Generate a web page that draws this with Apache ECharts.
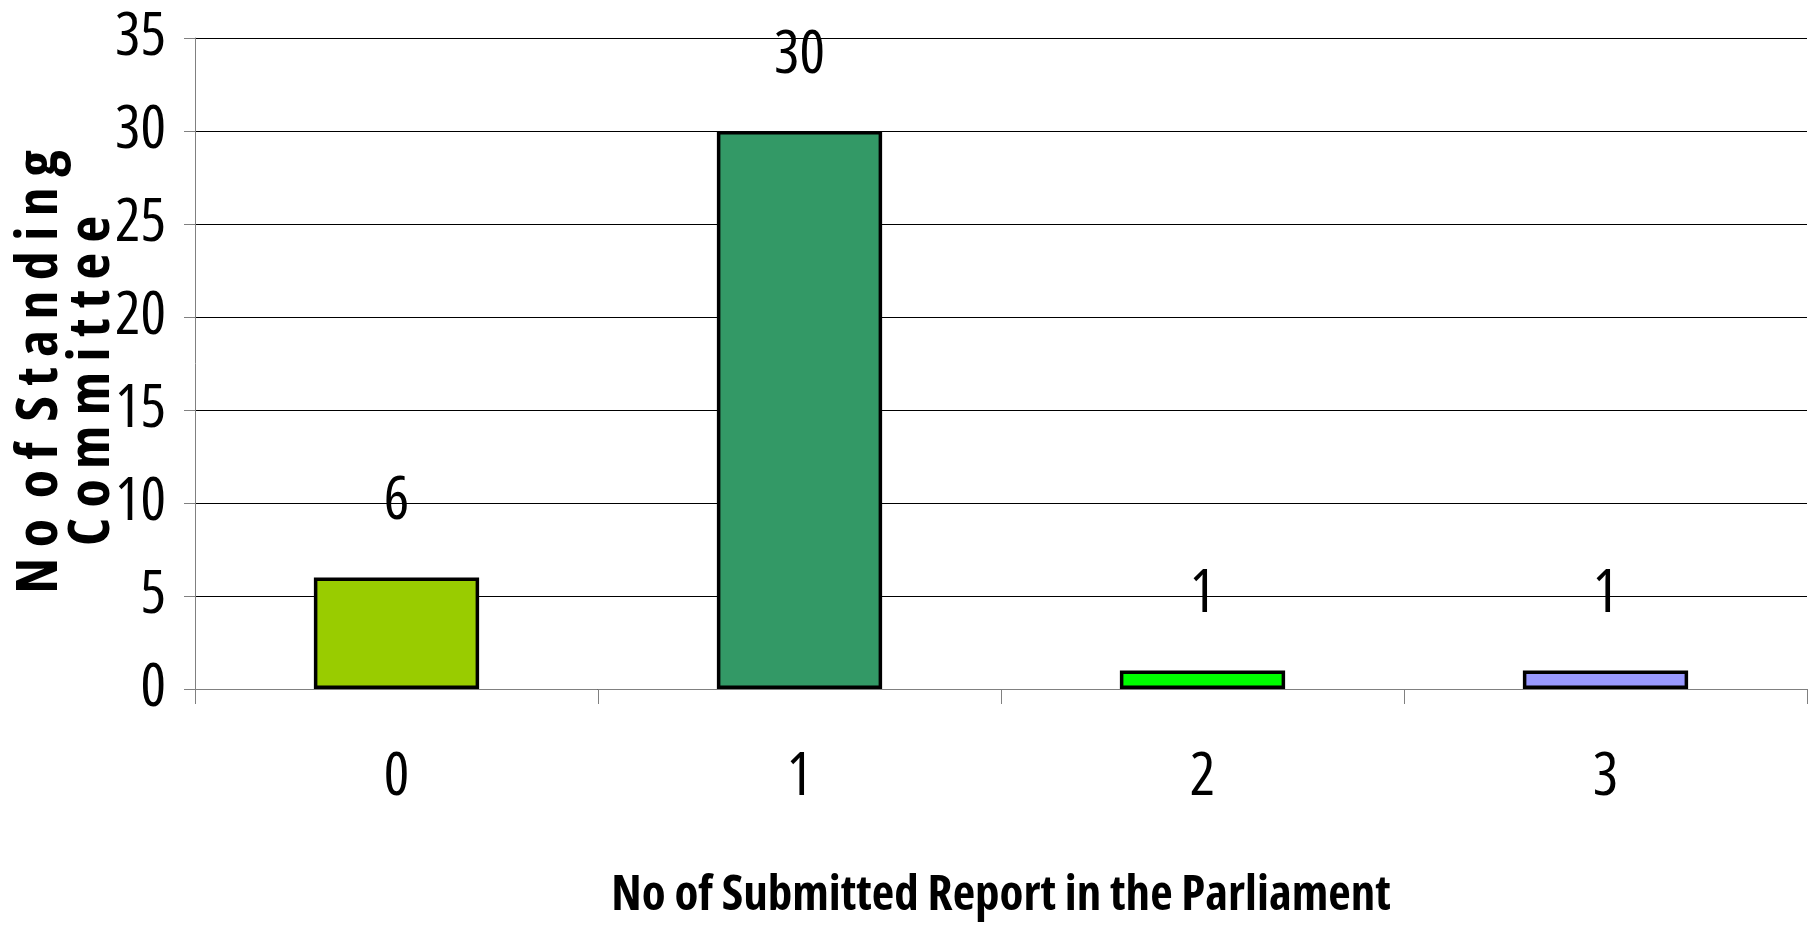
<html>
<head>
    <meta charset="utf-8">
</head>
<body style="margin:0">
    <script src="https://cdn.jsdelivr.net/npm/echarts@6/dist/echarts.min.js"></script>
    <div id="main" style="width: 1816px;height: 936px"></div>
    <script>

var categories = ['0', '1', '2', '3'];
var values = [6, 30, 1, 1];
var barColors = ['#99CC00', '#339966', '#00FF00', '#9999FF'];
var yTitleLines = ['N o  o f  S t a n d i n g', 'C o m m i t t e e'];
var xTitle = 'No of Submitted Report in the Parliament';

// narrow look: Open Sans squeezed through font-stretch
var narrow = '"Open Sans"';

var myChart = echarts.init(document.getElementById('main'));

option = {
    backgroundColor: '#fff',
    animation: false,
    grid: { left: 195, right: 9, top: 38, bottom: 247 },
    xAxis: {
        type: 'category',
        data: categories,
        axisLine: { lineStyle: { color: '#808080', width: 1 } },
        axisTick: { show: true, length: 15, lineStyle: { color: '#808080' } },
        axisLabel: { fontFamily: narrow, fontStyle: 'condensed', fontSize: 60, color: '#000', margin: 59 },
        name: xTitle,
        nameLocation: 'middle',
        nameGap: 183,
        nameTextStyle: { fontFamily: narrow, fontStyle: 'condensed', fontSize: 49, fontWeight: 'bold', color: '#000' }
    },
    yAxis: {
        type: 'value',
        min: 0,
        max: 35,
        interval: 5,
        axisLine: { show: true, lineStyle: { color: '#808080', width: 1 } },
        axisTick: { show: true, length: 11, lineStyle: { color: '#808080' } },
        axisLabel: {
            fontFamily: narrow, fontStyle: 'condensed', fontSize: 60, color: '#000',
            margin: 29, padding: [0, 0, 9, 0]
        },
        splitLine: { lineStyle: { color: '#000', width: 1 } }
    },
    series: [
        {
            type: 'bar',
            barWidth: '41%',
            data: values.map(function (v, i) {
                return { value: v, itemStyle: { color: barColors[i] } };
            }),
            itemStyle: { borderColor: '#000', borderWidth: 3.5 },
            label: {
                show: true,
                position: 'top',
                distance: 45,
                fontFamily: narrow,
                fontStyle: 'condensed',
                fontSize: 60,
                color: '#000'
            }
        }
    ]
};

// y axis title drawn as two rotated lines
option.graphic = yTitleLines.map(function (t, i) {
    return {
        type: 'text',
        x: [40, 92][i],
        y: [372, 381][i],
        rotation: Math.PI / 2,
        style: {
            text: t,
            font: 'condensed bold 58px "Open Sans"',
            fill: '#000',
            align: 'center',
            verticalAlign: 'middle'
        }
    };
});

myChart.setOption(option);

</script>
</body>
</html>
